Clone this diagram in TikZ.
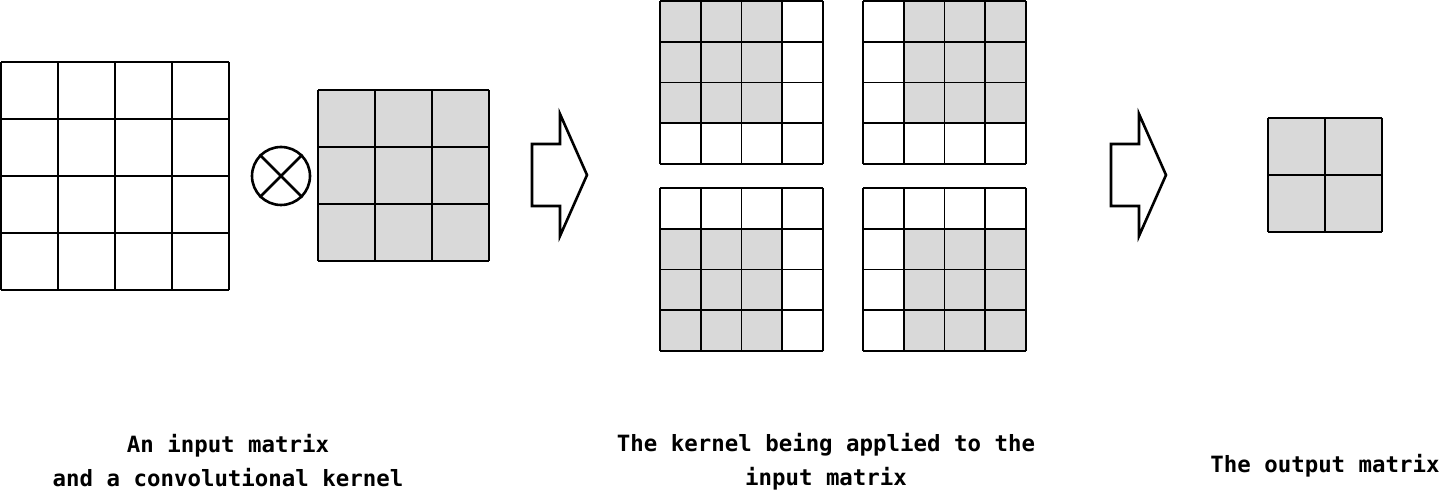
\documentclass[tikz,border=0pt]{standalone}
\usepackage{fontspec}
\setmonofont{DejaVu Sans Mono}
\tikzset{
  gridline/.style={line width=0.9pt},
  shaded/.style={fill=gray!30},
  bigarrow/.style={line width=1.3pt, line join=miter},
  caption/.style={font=\fontsize{11.2}{17}\selectfont\ttfamily\bfseries, align=center}
}
% grid: x, y, cells, cell size
\newcommand{\matgrid}[4]{%
  \foreach \k in {0,...,#3}{
    \draw[gridline] (#1+\k*#4,#2) -- (#1+\k*#4,#2+#3*#4);
    \draw[gridline] (#1,#2+\k*#4) -- (#1+#3*#4,#2+\k*#4);
  }}
% shaded block: x, y, cell size, col, row, cells
\newcommand{\shadecells}[6]{%
  \fill[shaded] (#1+#4*#3,#2+#5*#3) rectangle (#1+#4*#3+#6*#3,#2+#5*#3+#6*#3);}
\begin{document}
\begin{tikzpicture}[x=0.5pt, y=-0.5pt]
  \useasboundingbox (0,0) rectangle (1440,491);
  % input matrix and kernel
  \matgrid{1}{62}{4}{57}
  \node (otimes) [draw, circle, line width=1.3pt, minimum size=29pt, inner sep=0pt] at (281,176) {};
  \draw[line width=1.3pt] (otimes.north west) -- (otimes.south east);
  \draw[line width=1.3pt] (otimes.north east) -- (otimes.south west);
  \shadecells{318}{90}{57}{0}{0}{3}
  \matgrid{318}{90}{3}{57}
  % arrows
  \foreach \ax in {532,1111}
    \draw[bigarrow] (\ax,144) -- (\ax+28,144) -- (\ax+28,114) -- (\ax+55,175)
      -- (\ax+28,236) -- (\ax+28,206) -- (\ax,206) -- cycle;
  % kernel positions
  \shadecells{660}{1}{40.75}{0}{0}{3}
  \shadecells{863}{1}{40.75}{1}{0}{3}
  \shadecells{660}{188}{40.75}{0}{1}{3}
  \shadecells{863}{188}{40.75}{1}{1}{3}
  \matgrid{660}{1}{4}{40.75}
  \matgrid{863}{1}{4}{40.75}
  \matgrid{660}{188}{4}{40.75}
  \matgrid{863}{188}{4}{40.75}
  % output
  \shadecells{1268}{118}{57}{0}{0}{2}
  \matgrid{1268}{118}{2}{57}
  % captions
  \node (capin) [caption] at (228,461) {An input matrix\\and a convolutional kernel};
  \node (capmid) [caption] at (826,462) {The kernel being applied to the\\input matrix};
  \node (capout) [caption] at (1325,466) {The output matrix};
\end{tikzpicture}
\end{document}
